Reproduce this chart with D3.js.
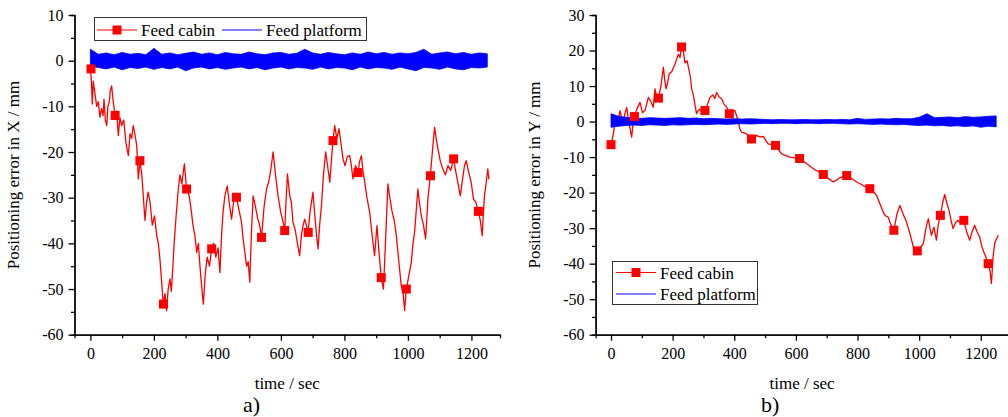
<!DOCTYPE html>
<html>
<head>
<meta charset="utf-8">
<script src="https://cdn.jsdelivr.net/npm/d3@7"></script>
<style>
  body { margin: 0; background: #fff; }
  .axis path, .axis line { stroke: #000; stroke-width: 1.3; }
  .axis text { font-size: 16px; fill: #000; }
</style>
</head>
<body>
<svg id="chart" width="1008" height="417"></svg>
<script>
const FONT = "'Liberation Serif', 'Times New Roman', Times, 'DejaVu Serif', serif";

// time axis for the platform band (sec)
const platformTime = d3.range(0, 1251, 25);

// a) X error, feed cabin [time, mm]
const cabinX = [[0,-1.8],[3,-4],[6,-9.5],[9,-4.5],[14,-7],[20,-10],[25,-9],[30,-12.4],[35,-10.5],[40,-12],[43,-8.4],[47,-13],[51.5,-14.2],[55,-10],[60,-9],[62,-6.9],[67,-5.5],[72,-9],[77.7,-12],[83,-11],[88,-16.4],[93,-12.5],[98.7,-14.2],[105,-13],[112,-18],[119.6,-20.8],[125,-16],[130,-17],[135,-14.2],[140,-16],[146,-18.6],[151,-25.9],[156,-21.9],[162,-25],[167,-30],[172,-35],[177,-31],[182,-28.8],[188,-31],[195,-36],[202,-34],[209,-38.3],[214,-40],[219,-43.4],[224,-48],[229.6,-53.3],[235,-51],[240,-54.7],[245,-50],[250.6,-47.8],[255,-50.5],[259,-46],[264,-39.8],[270,-34],[277,-28.1],[282,-25],[288,-27],[296,-22.6],[303,-28.1],[311,-29.5],[318,-33],[323,-36],[329,-38.3],[335,-42],[340,-40],[345,-44.9],[350,-49],[355.7,-53.3],[362,-46.4],[368,-43],[375,-45],[381.8,-41.2],[388,-40],[395,-43],[402,-41],[408,-46.4],[413,-38.3],[418,-33],[423.6,-29.6],[431,-27.4],[437,-31],[444.6,-34.7],[451,-31],[460,-29.9],[466,-32],[476,-35.4],[481,-39],[486.5,-42],[492,-45],[497,-44],[502,-48.5],[507,-38],[512.6,-29.6],[520,-32],[527,-34.6],[533,-36],[539,-38.7],[547,-32],[554.7,-28.1],[562,-26.4],[568,-24],[575.5,-20],[583,-25],[591,-29.6],[599,-33],[607,-35.4],[612,-37.2],[616,-31],[620.6,-24.8],[628,-29.6],[633,-31],[638,-35.4],[645,-37],[652,-40],[659,-42.7],[665,-38],[670,-36],[675,-34.7],[680,-36],[685.5,-37.6],[692,-33],[701,-28.8],[707,-34],[712,-38],[717,-41.2],[722,-36],[727.7,-31.7],[734,-25],[741,-20],[747,-23],[754,-26.6],[760,-21],[764,-17.5],[769.5,-14.2],[776,-17],[783,-14.9],[789,-18],[795.6,-21.5],[802,-23],[809,-21],[816.7,-20.8],[822,-23],[827,-25.9],[835,-23],[843,-24.5],[848,-22],[853.5,-20.8],[858,-24],[864,-26.6],[871,-30],[879.6,-33.2],[887,-38],[895,-42.7],[902.5,-36.1],[909,-42],[916,-47.5],[923,-50],[928,-42],[932,-35.4],[937,-27],[943,-30],[950,-33],[957,-35],[963.5,-38.3],[970,-43],[979,-49.3],[985,-51],[989.6,-54.7],[995,-50],[1003,-47],[1010.7,-44.2],[1016,-40],[1021,-37.6],[1026,-33],[1031.4,-28.1],[1036,-31],[1042,-33.9],[1049,-36],[1055.7,-39],[1060,-34],[1063,-30.3],[1070.5,-25.2],[1077,-20],[1084,-14.6],[1089,-17],[1094.6,-19.3],[1102,-22],[1110,-23.7],[1118,-25],[1126,-23],[1135,-24],[1143.7,-21.5],[1150,-24],[1157,-26.6],[1165,-29.6],[1172,-26],[1178,-23],[1183.6,-21.9],[1190,-24],[1199,-26.6],[1206.6,-30.3],[1214,-31],[1222,-33],[1228,-35],[1234,-38.3],[1238,-33],[1241,-29.6],[1246,-27],[1251.6,-23.7],[1255,-26]];
const cabinXMarks = [[2,-1.8],[78,-12],[156,-21.9],[230,-53.3],[303,-28.1],[382,-41.2],[460,-29.9],[539,-38.7],[612,-37.2],[686,-37.6],[764,-17.5],[843,-24.5],[916,-47.5],[995,-50],[1071,-25.2],[1144,-21.5],[1222,-33]];
const platformXHi = [2.5,1.4,1.7,1.3,1.8,1.4,1.6,1.3,2.7,1.4,1.7,1.3,1.6,1.9,1.4,1.7,1.3,1.8,1.5,1.4,1.9,1.5,1.3,1.7,1.8,1.4,1.6,2.5,1.7,1.4,1.8,1.5,1.3,1.7,1.4,1.9,1.5,1.8,1.4,1.7,1.5,1.8,2.5,1.4,1.7,1.9,1.5,1.8,1.4,1.7,1.5];
const platformXLo = [-1.2,-1.5,-1.8,-1.4,-2.0,-1.5,-1.7,-1.4,-1.9,-1.5,-1.8,-1.4,-2.2,-1.6,-1.4,-1.8,-1.5,-1.9,-1.6,-1.4,-1.8,-1.5,-2.0,-1.6,-1.4,-1.8,-1.5,-1.6,-1.9,-1.4,-1.8,-1.5,-1.6,-2.0,-1.4,-1.8,-1.5,-1.6,-1.9,-1.4,-1.8,-2.2,-1.5,-1.6,-1.9,-1.4,-1.8,-2.0,-1.5,-1.6,-1.4];

// b) Y error, feed cabin [time, mm]
const cabinY = [[0,-6.5],[4,-5],[7.5,-3.5],[12,-1],[16,1.2],[22,-0.5],[29,3.1],[35,1],[40,0],[46,2.5],[51,4],[57,0],[62,-2],[67,-4.4],[71,-1],[75.6,1.4],[84,3.5],[94,5.4],[102,2.5],[110,3.1],[116,5],[121,6.8],[130,5.5],[137,4],[143,9.2],[148,7],[154,6.6],[162,10],[170,15.3],[174,12],[178.6,9.2],[184,11],[189,13.5],[197,14],[207.6,16.2],[213,17.5],[218.5,19],[224,18],[229,21],[234.6,20],[240,16.5],[247,17.1],[252,15],[258,12.4],[262,9],[266.6,7.8],[272,5],[277.5,2.2],[282,3],[288,3.5],[296,2.5],[305,3.1],[312,4.5],[321,6.8],[330,7.5],[337,6.5],[343,8.2],[350,7],[359,6.4],[366,5],[375.6,4],[384,2.2],[392,3],[402,3.1],[408,1.5],[413,0.3],[418,-2],[424,-3],[432,-3.2],[439,-3.4],[447,-4],[456,-4.9],[464,-4.5],[472.6,-3.9],[482,-4.3],[494,-4.2],[502,-5.2],[510,-6.3],[522,-6.5],[534,-6.7],[544,-8],[553.6,-9.1],[566,-9.5],[580.6,-10],[595,-10.2],[612,-10.4],[630,-11.5],[646,-12.6],[660,-13.5],[675,-14.2],[689,-14.9],[705,-16],[721,-17],[731,-16.5],[743,-15.8],[752,-15.5],[765,-15.2],[775,-15.8],[786,-16.3],[797,-17],[808,-17.5],[822,-18.2],[840,-18.9],[852,-19.8],[862,-20.8],[872,-23],[883.6,-25.5],[890,-26.5],[899.6,-26.9],[908,-29],[918,-30.6],[928,-26],[937.5,-23.6],[948,-26],[959,-28.3],[970,-31.5],[981,-35.3],[988,-36.5],[994,-36.4],[1003,-35.5],[1013.6,-34.4],[1022,-30],[1029.8,-27.3],[1035,-30],[1040,-32],[1048,-29.7],[1056,-33.4],[1062,-29],[1069,-26.4],[1076,-23],[1083,-20.5],[1090,-23],[1097,-25],[1104,-28],[1110,-30.1],[1118,-28.5],[1126,-27.8],[1135,-28.5],[1145,-27.8],[1154,-31],[1164,-33.4],[1172,-31],[1180,-29.2],[1188,-31],[1196.6,-32.5],[1203,-35],[1209.6,-36.7],[1216,-38],[1223.6,-40],[1230,-42],[1234.6,-45.6],[1240,-38],[1245,-34.4],[1251,-33],[1257,-32]];
const cabinYMarks = [[0,-6.5],[76,1.4],[154,6.6],[229,21],[305,3.1],[384,2.2],[456,-4.9],[534,-6.7],[612,-10.4],[689,-14.9],[765,-15.2],[840,-18.9],[918,-30.6],[994,-36.4],[1069,-26.4],[1145,-27.8],[1224,-40]];
const platformYHi = [2.2,1.5,1.2,1.0,0.9,1.1,1.0,0.9,1.0,1.1,0.9,1.0,0.8,0.9,0.8,0.7,0.8,0.7,0.8,0.7,0.6,0.5,0.6,0.5,0.5,0.6,0.5,0.5,0.6,0.5,0.6,0.5,0.9,0.6,0.7,0.8,0.7,0.9,0.8,0.8,1.2,2.2,1.1,1.2,1.3,1.1,1.4,1.2,1.3,1.5,1.6];
const platformYLo = [-1.6,-1.3,-1.1,-1.0,-1.1,-0.9,-1.0,-1.1,-0.9,-1.0,-0.9,-0.8,-0.9,-0.8,-0.7,-0.8,-0.7,-0.6,-0.7,-0.6,-0.5,-0.6,-0.5,-0.5,-0.6,-0.5,-0.5,-0.6,-0.5,-0.5,-0.6,-0.7,-0.6,-0.7,-0.8,-0.7,-0.8,-0.9,-0.8,-1.0,-1.1,-1.0,-1.2,-1.1,-1.3,-1.2,-1.4,-1.2,-1.6,-1.3,-1.5];

const xTicks = [0, 200, 400, 600, 800, 1000, 1200];
const seriesNames = ["Feed cabin", "Feed platform"];
const RED = "#ff0000", BLUE = "#0000ff";
const plainNum = d => String(d); // hyphen minus like the original

const svg = d3.select("#chart").attr("font-family", FONT).style("font-family", FONT);

function drawPanel(p) {
    const g = svg.append("g");
    const x = d3.scaleLinear().domain([-50, 1290]).range(p.xRange);
    const y = d3.scaleLinear().domain(p.yDomain).range([334.7, 15]);
    const x0 = p.xRange[0];

    // red cabin trace
    g.append("path")
        .datum(p.cabin)
        .attr("fill", "none")
        .attr("stroke", RED)
        .attr("stroke-width", 1.3)
        .attr("stroke-linejoin", "round")
        .attr("d", d3.line().x(d => x(d[0])).y(d => y(d[1])));

    // blue platform noise band
    const band = platformTime.map((t, i) => [t, p.lo[i], p.hi[i]]);
    g.append("path")
        .datum(band)
        .attr("fill", BLUE)
        .attr("stroke", BLUE)
        .attr("stroke-width", 0.8)
        .attr("d", d3.area().x(d => x(d[0])).y0(d => y(d[1])).y1(d => y(d[2])));

    g.selectAll(".mk")
        .data(p.marks)
        .join("rect")
        .attr("x", d => x(d[0]) - 4.5)
        .attr("y", d => y(d[1]) - 4.5)
        .attr("width", 9)
        .attr("height", 9)
        .attr("fill", RED);

    // axes
    const yMinor = d3.range(p.yDomain[0], p.yDomain[1] + 0.1, 5).filter(v => v % 10 !== 0);
    g.append("g").attr("class", "axis").attr("transform", `translate(${x0},0)`)
        .call(d3.axisLeft(y).tickValues(yMinor).tickSize(3.5).tickFormat(""));
    g.append("g").attr("class", "axis").attr("transform", `translate(${x0},0)`)
        .call(d3.axisLeft(y).tickValues(d3.range(p.yDomain[0], p.yDomain[1] + 0.1, 10))
            .tickSize(6).tickPadding(5).tickSizeOuter(0).tickFormat(plainNum));

    g.append("g").attr("class", "axis").attr("transform", "translate(0,334.7)")
        .call(d3.axisBottom(x).tickValues(d3.range(100, 1300, 200)).tickSize(3.5).tickFormat(""));
    g.append("g").attr("class", "axis").attr("transform", "translate(0,334.7)")
        .call(d3.axisBottom(x).tickValues(xTicks).tickSize(6).tickPadding(7).tickSizeOuter(0)
            .tickFormat(plainNum));

    g.selectAll(".axis").attr("font-family", FONT).attr("font-size", 16);
    g.selectAll(".axis .domain").attr("stroke-width", 1.4);

    // titles
    const cx = (p.xRange[0] + p.xRange[1]) / 2;
    g.append("text").attr("x", cx).attr("y", 389).attr("text-anchor", "middle")
        .attr("font-family", FONT).attr("font-size", 17).text("time / sec");
    g.append("text").attr("transform", `translate(${p.yTitleX},175) rotate(-90)`)
        .attr("text-anchor", "middle").attr("font-family", FONT).attr("font-size", 17).text(p.yTitle);
    g.append("text").attr("x", p.tagX).attr("y", 412).attr("font-family", FONT)
        .attr("font-size", 22).text(p.tag);

    // legend
    const L = p.legend;
    g.append("rect").attr("x", L.x).attr("y", L.y).attr("width", L.w).attr("height", L.h)
        .attr("fill", "#fff").attr("stroke", "#333").attr("stroke-width", 1);
    L.items.forEach((it, i) => {
        const col = i === 0 ? RED : BLUE;
        g.append("line").attr("x1", it.x).attr("x2", it.x + 40).attr("y1", it.y).attr("y2", it.y)
            .attr("stroke", col).attr("stroke-width", 1.2);
        if (i === 0) {
            g.append("rect").attr("x", it.x + 15.5).attr("y", it.y - 4.5)
                .attr("width", 9).attr("height", 9).attr("fill", RED);
        }
        g.append("text").attr("x", it.x + 44).attr("y", it.y + 6)
            .attr("font-family", FONT).attr("font-size", 17).text(seriesNames[i]);
    });
}

drawPanel({
    xRange: [74.5, 500], yDomain: [-60, 10],
    cabin: cabinX, marks: cabinXMarks, hi: platformXHi, lo: platformXLo,
    yTitle: "Positioning error in X / mm", yTitleX: 19, tag: "a)", tagX: 243,
    legend: { x: 94.5, y: 17.5, w: 272, h: 23,
        items: [{ x: 97, y: 30 }, { x: 222, y: 30 }] }
});

drawPanel({
    xRange: [595.6, 1008.5], yDomain: [-60, 30],
    cabin: cabinY, marks: cabinYMarks, hi: platformYHi, lo: platformYLo,
    yTitle: "Positioning error in Y / mm", yTitleX: 540, tag: "b)", tagX: 761,
    legend: { x: 612.5, y: 261.5, w: 145, h: 43,
        items: [{ x: 616, y: 272.5 }, { x: 616, y: 294 }] }
});
</script>
</body>
</html>
